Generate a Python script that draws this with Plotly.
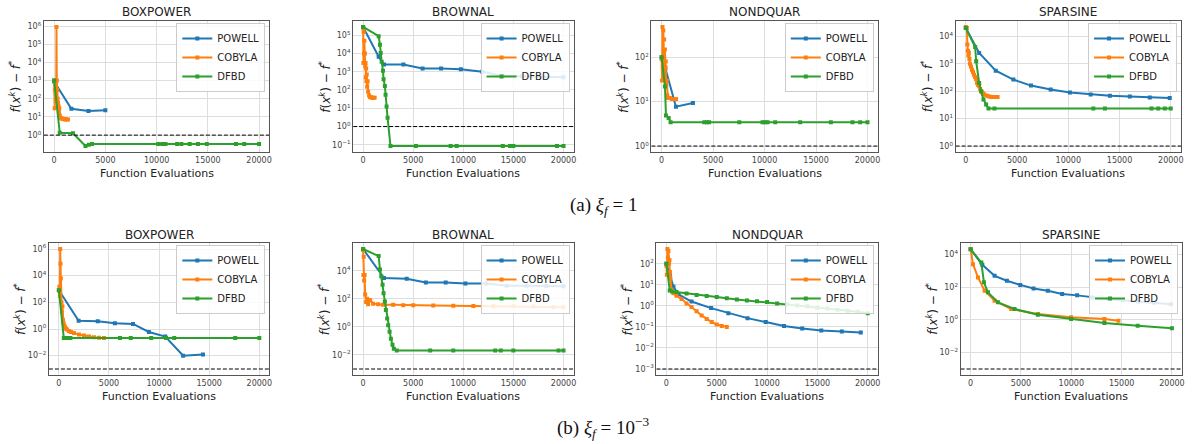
import math
import plotly.graph_objects as go

W, H = 1192, 444

solvers = ["POWELL", "COBYLA", "DFBD"]
solver_colors = ["#1f77b4", "#ff7f0e", "#2ca02c"]
problems = ["BOXPOWER", "BROWNAL", "NONDQUAR", "SPARSINE"]
thresholds = [1.0, 1e-3]
x_ticks = [0, 5000, 10000, 15000, 20000]
captions = ["(a) <i>ξ<sub>f</sub></i> = 1", "(b) <i>ξ<sub>f</sub></i> = 10<sup>−3</sup>"]

# ---------------- (a) xi_f = 1 ----------------
a_boxpower_powell_x = [0, 1680, 3350, 5000]
a_boxpower_powell_y = [900, 28, 21, 23]
a_boxpower_cobyla_x = [0, 50, 100, 150, 200, 230, 260, 300, 340, 380, 420, 460, 500, 550, 600, 700, 800, 900, 1000, 1100, 1200, 1350]
a_boxpower_cobyla_y = [1000, 30, 300, 1000, 80, 900000, 1000, 300, 100, 60, 40, 20, 30, 12, 9, 8.5, 8, 7.8, 7.5, 7.5, 7.3, 7.3]
a_boxpower_dfbd_x = [0, 550, 1840, 3060, 3390, 3700, 10160, 10550, 10870, 12000, 12420, 13230, 14030, 14900, 17740, 18550, 20000]
a_boxpower_dfbd_y = [1000, 1.35, 1.25, 0.25, 0.29, 0.32, 0.32, 0.32, 0.32, 0.32, 0.32, 0.32, 0.32, 0.32, 0.32, 0.32, 0.32]

a_brownal_powell_x = [0, 1550, 2080, 4020, 5930, 7780, 9750, 11900, 13940, 15850, 17860, 20000]
a_brownal_powell_y = [2.8e5, 6600, 2500, 2500, 1500, 1500, 1350, 1000, 590, 570, 540, 500]
a_brownal_cobyla_x = [0, 30, 60, 90, 120, 150, 180, 210, 240, 270, 300, 330, 360, 400, 450, 500, 600, 700, 800, 900, 1000, 1150]
a_brownal_cobyla_y = [2.5e5, 3000, 1.5e5, 1e4, 5e4, 3000, 1e4, 2000, 3000, 500, 1500, 300, 700, 150, 300, 80, 50, 40, 40, 38, 38, 38]
a_brownal_dfbd_x = [0, 1550, 1680, 1750, 1850, 1980, 2040, 2170, 2240, 2340, 2440, 2730, 5270, 8730, 9330, 13940, 14660, 14990, 19340, 20000]
a_brownal_dfbd_y = [2.8e5, 8.7e4, 3e4, 1.07e4, 3500, 1140, 390, 167, 55, 12.6, 3, 0.086, 0.086, 0.086, 0.086, 0.086, 0.086, 0.086, 0.086, 0.086]

a_nondquar_powell_x = [0, 360, 1390, 3040]
a_nondquar_powell_y = [100, 56, 7.7, 9.3]
a_nondquar_cobyla_x = [0, 40, 80, 120, 160, 200, 240, 280, 320, 360, 400, 450, 500, 550, 600, 800, 1000, 1200, 1400]
a_nondquar_cobyla_y = [90, 30, 480, 60, 400, 100, 250, 40, 150, 60, 80, 25, 30, 14, 12, 12, 11.5, 11.5, 11.5]
a_nondquar_dfbd_x = [0, 320, 420, 680, 870, 4140, 4400, 4600, 7540, 9800, 10060, 10290, 11030, 13460, 16440, 18540, 19290, 20000]
a_nondquar_dfbd_y = [100, 22, 4.9, 4.3, 3.45, 3.45, 3.45, 3.45, 3.45, 3.45, 3.45, 3.45, 3.45, 3.45, 3.45, 3.45, 3.45, 3.45]

a_sparsine_powell_x = [0, 1300, 2920, 4640, 6360, 8280, 10160, 12180, 14060, 16000, 17950, 19900]
a_sparsine_powell_y = [2e4, 2470, 560, 265, 160, 115, 90, 76, 68, 64, 59, 57]
a_sparsine_cobyla_x = [0, 100, 150, 200, 250, 300, 350, 400, 500, 600, 700, 800, 900, 1000, 1100, 1200, 1300, 1400, 1500, 1600, 1700, 1800, 2000, 2200, 2400, 2600, 2800, 3100]
a_sparsine_cobyla_y = [22000, 20000, 5000, 3000, 2000, 2500, 1500, 1000, 800, 600, 500, 400, 330, 280, 200, 170, 150, 120, 100, 90, 80, 75, 70, 66, 63, 62, 61, 61]
a_sparsine_dfbd_x = [0, 910, 1010, 1300, 1490, 1720, 1980, 2210, 2790, 12440, 13570, 18120, 18770, 19420, 20000]
a_sparsine_dfbd_y = [2e4, 4100, 1230, 200, 100, 50, 33, 23.5, 23.5, 23.5, 23.5, 23.5, 23.5, 23.5, 23.5]

# ---------------- (b) xi_f = 1e-3 ----------------
b_boxpower_powell_x = [0, 1970, 3880, 5590, 7400, 8980, 10620, 12400, 14380]
b_boxpower_powell_y = [800, 4.2, 3.8, 2.7, 2.4, 0.6, 0.27, 0.01, 0.012]
b_boxpower_cobyla_x = [0, 50, 100, 130, 160, 200, 250, 300, 350, 400, 450, 500, 600, 700, 800, 1000, 1200, 1500, 2000, 2500, 3000, 3500, 4000, 4500]
b_boxpower_cobyla_y = [800, 1500, 300, 1e6, 8e4, 6e3, 100, 20, 50, 5, 3, 2, 1.5, 1.1, 0.9, 0.7, 0.6, 0.5, 0.38, 0.32, 0.27, 0.24, 0.22, 0.21]
b_boxpower_dfbd_x = [0, 490, 660, 820, 1150, 6090, 7170, 9210, 10690, 11510, 17600, 20000]
b_boxpower_dfbd_y = [800, 0.21, 0.21, 0.21, 0.21, 0.21, 0.21, 0.21, 0.21, 0.21, 0.21, 0.21]

b_brownal_powell_x = [0, 2080, 4350, 6260, 8240, 10210, 12290, 14330, 16300, 18290, 20000]
b_brownal_powell_y = [3.5e5, 3000, 2700, 1470, 1470, 1240, 1240, 850, 850, 800, 780]
b_brownal_cobyla_x = [0, 30, 60, 100, 150, 200, 300, 400, 500, 700, 1000, 1500, 2000, 3000, 4000, 5000, 7000, 9000, 11000, 13000, 15000, 17000, 19000, 20000]
b_brownal_cobyla_y = [3e5, 5e3, 1e5, 2e3, 5e3, 200, 60, 100, 40, 80, 45, 40, 38, 37, 35, 34, 33, 32, 31, 30, 29, 28, 26, 25]
b_brownal_dfbd_x = [0, 1550, 1680, 1810, 1940, 2040, 2170, 2270, 2400, 2500, 2640, 2770, 2930, 3060, 3360, 6690, 9000, 13180, 13740, 14990, 19500, 20000]
b_brownal_dfbd_y = [3.5e5, 1.1e5, 1.2e4, 4000, 1000, 250, 63, 16, 4, 1.3, 0.44, 0.145, 0.054, 0.028, 0.021, 0.021, 0.021, 0.021, 0.021, 0.021, 0.021, 0.021]

b_nondquar_powell_x = [0, 330, 700, 1200, 2500, 4440, 6150, 8060, 9870, 11680, 13490, 15390, 17430, 19310]
b_nondquar_powell_y = [100, 30, 8, 3.5, 1.6, 0.78, 0.45, 0.26, 0.17, 0.11, 0.083, 0.068, 0.06, 0.054]
b_nondquar_cobyla_x = [0, 50, 100, 150, 200, 250, 300, 350, 400, 500, 700, 1000, 1500, 2000, 2500, 3000, 3500, 4000, 4500, 5000, 5500, 6000]
b_nondquar_cobyla_y = [80, 30, 500, 200, 400, 100, 150, 40, 20, 6, 4, 3, 2.1, 1.3, 0.87, 0.55, 0.35, 0.24, 0.17, 0.13, 0.11, 0.10]
b_nondquar_dfbd_x = [0, 330, 560, 1000, 2000, 3000, 4000, 5000, 6000, 7000, 8000, 9000, 10000, 11000, 12000, 13000, 14000, 15000, 16000, 17000, 18000, 19000, 20000]
b_nondquar_dfbd_y = [100, 5.4, 4.8, 4.5, 3.9, 3.3, 2.9, 2.6, 2.3, 2.0, 1.8, 1.65, 1.5, 1.3, 1.2, 1.05, 0.95, 0.82, 0.75, 0.66, 0.58, 0.52, 0.45]

b_sparsine_powell_x = [0, 1160, 2380, 3600, 4930, 6250, 7670, 9090, 10580, 12070, 13620, 15110, 16660, 18250, 19900]
b_sparsine_powell_y = [2.1e4, 2360, 500, 250, 140, 85, 62, 39, 32, 24, 19, 16, 13, 11.4, 9]
b_sparsine_cobyla_x = [0, 230, 730, 1390, 2380, 4030, 6680, 9980, 13290, 14680]
b_sparsine_cobyla_y = [2.2e4, 2600, 400, 62, 15, 4.7, 2.3, 1.45, 1.15, 0.9]
b_sparsine_dfbd_x = [0, 1060, 1320, 1720, 2710, 4360, 6680, 9980, 13290, 16600, 20000]
b_sparsine_dfbd_y = [2.1e4, 3300, 200, 49, 12, 4.7, 2.1, 1.15, 0.66, 0.45, 0.31]

# y tick exponents per panel
ytick_exponents = [
    [0, 1, 2, 3, 4, 5, 6], [-1, 0, 1, 2, 3, 4, 5], [0, 1, 2], [0, 1, 2, 3, 4],
    [-2, 0, 2, 4, 6], [-2, 0, 2, 4], [-3, -2, -1, 0, 1, 2], [-2, 0, 2, 4],
]

panel_series = [
    [(a_boxpower_powell_x, a_boxpower_powell_y), (a_boxpower_cobyla_x, a_boxpower_cobyla_y), (a_boxpower_dfbd_x, a_boxpower_dfbd_y)],
    [(a_brownal_powell_x, a_brownal_powell_y), (a_brownal_cobyla_x, a_brownal_cobyla_y), (a_brownal_dfbd_x, a_brownal_dfbd_y)],
    [(a_nondquar_powell_x, a_nondquar_powell_y), (a_nondquar_cobyla_x, a_nondquar_cobyla_y), (a_nondquar_dfbd_x, a_nondquar_dfbd_y)],
    [(a_sparsine_powell_x, a_sparsine_powell_y), (a_sparsine_cobyla_x, a_sparsine_cobyla_y), (a_sparsine_dfbd_x, a_sparsine_dfbd_y)],
    [(b_boxpower_powell_x, b_boxpower_powell_y), (b_boxpower_cobyla_x, b_boxpower_cobyla_y), (b_boxpower_dfbd_x, b_boxpower_dfbd_y)],
    [(b_brownal_powell_x, b_brownal_powell_y), (b_brownal_cobyla_x, b_brownal_cobyla_y), (b_brownal_dfbd_x, b_brownal_dfbd_y)],
    [(b_nondquar_powell_x, b_nondquar_powell_y), (b_nondquar_cobyla_x, b_nondquar_cobyla_y), (b_nondquar_dfbd_x, b_nondquar_dfbd_y)],
    [(b_sparsine_powell_x, b_sparsine_powell_y), (b_sparsine_cobyla_x, b_sparsine_cobyla_y), (b_sparsine_dfbd_x, b_sparsine_dfbd_y)],
]

# ---------------- layout geometry (pixels) ----------------
frame_x = [(44, 270), (354, 575), (653, 880), (958, 1184),
           (49, 270), (354, 575), (658, 880), (963, 1185)]
row_y = [(21, 152), (243, 375)]
title_y = [12, 235]
xlabel_y = [173, 396]
caption_y = [206, 427]

FONT = "DejaVu Sans"
frame_color = "#555555"
grid_color = "#dedede"

fig = go.Figure()
layout = dict(
    width=W, height=H, margin=dict(l=0, r=0, t=0, b=0),
    paper_bgcolor="white", plot_bgcolor="white",
    font=dict(family=FONT, color="#222222"),
    showlegend=True,
)
annotations = []

for i in range(8):
    row = i // 4
    s = "" if i == 0 else str(i + 1)
    xl, xr = frame_x[i]
    yt, yb = row_y[row]
    leg = "legend" if i == 0 else f"legend{i + 1}"
    for k, (xs, ys) in enumerate(panel_series[i]):
        fig.add_trace(go.Scatter(
            x=xs, y=ys, mode="lines+markers", name=solvers[k],
            line=dict(color=solver_colors[k], width=2),
            marker=dict(symbol="square", size=4, color=solver_colors[k]),
            xaxis="x" + s, yaxis="y" + s, legend=leg,
        ))
    # matplotlib-style autoscale (5% margins), including the threshold line
    all_x = [v for xs, _ in panel_series[i] for v in xs]
    all_logy = [math.log10(v) for _, ys in panel_series[i] for v in ys] + [math.log10(thresholds[row])]
    x0, x1 = min(all_x), max(all_x)
    xpad = 0.05 * (x1 - x0)
    y0, y1 = min(all_logy), max(all_logy)
    ypad = 0.05 * (y1 - y0)
    xrange_ = [x0 - xpad, x1 + xpad]

    # threshold (dashed horizontal line across the full axes width)
    fig.add_trace(go.Scatter(
        x=xrange_, y=[thresholds[row], thresholds[row]], mode="lines",
        line=dict(color="black", width=1, dash="4px,2px"), showlegend=False,
        hoverinfo="skip", xaxis="x" + s, yaxis="y" + s,
    ))

    layout["xaxis" + s] = dict(
        domain=[xl / W, xr / W], anchor="y" + s, range=xrange_,
        tickmode="array", tickvals=x_ticks, ticktext=[str(t) for t in x_ticks],
        showgrid=True, gridcolor=grid_color, gridwidth=1, zeroline=False,
        showline=True, mirror=True, linecolor=frame_color, linewidth=1,
        ticks="", tickfont=dict(size=8, color="#444444"),
    )
    exps = ytick_exponents[i]
    layout["yaxis" + s] = dict(
        domain=[1 - yb / H, 1 - yt / H], anchor="x" + s, type="log",
        range=[y0 - ypad, y1 + ypad],
        tickmode="array", tickvals=[10.0 ** e for e in exps],
        ticktext=["10<sup>" + str(e).replace("-", "−") + "</sup>" for e in exps],
        showgrid=True, gridcolor=grid_color, gridwidth=1, zeroline=False,
        showline=True, mirror=True, linecolor=frame_color, linewidth=1,
        ticks="", tickfont=dict(size=8, color="#444444"),
    )
    layout[leg] = dict(
        x=(xr - 4) / W, y=1 - (yt + 2) / H, xanchor="right", yanchor="top",
        bgcolor="rgba(255,255,255,0.85)", bordercolor="#cccccc", borderwidth=1,
        font=dict(size=10, color="#222222", family=FONT), itemwidth=30,
        tracegroupgap=0,
    )
    cx = (xl + xr) / 2 / W
    annotations.append(dict(
        text=problems[i % 4], x=cx, y=1 - title_y[row] / H, xref="paper", yref="paper",
        xanchor="center", yanchor="middle", showarrow=False,
        font=dict(size=12, family=FONT, color="#222222"),
    ))
    annotations.append(dict(
        text="Function Evaluations", x=cx, y=1 - xlabel_y[row] / H, xref="paper", yref="paper",
        xanchor="center", yanchor="middle", showarrow=False,
        font=dict(size=11, family=FONT, color="#222222"),
    ))
    annotations.append(dict(
        text="<i>f</i>(<i>x</i><sup><i>k</i></sup>) − <i>f</i><sup>*</sup>",
        x=(xl - 29) / W, y=1 - (yt + yb) / 2 / H, xref="paper", yref="paper",
        xanchor="center", yanchor="middle", showarrow=False, textangle=-90,
        font=dict(size=12, family=FONT, color="#222222"),
    ))

for r in range(2):
    annotations.append(dict(
        text=captions[r], x=605 / W, y=1 - caption_y[r] / H, xref="paper", yref="paper",
        xanchor="center", yanchor="middle", showarrow=False,
        font=dict(size=19, family="Liberation Serif", color="#111111"),
    ))

layout["annotations"] = annotations
fig.update_layout(**layout)
fig.write_html("out.html")
